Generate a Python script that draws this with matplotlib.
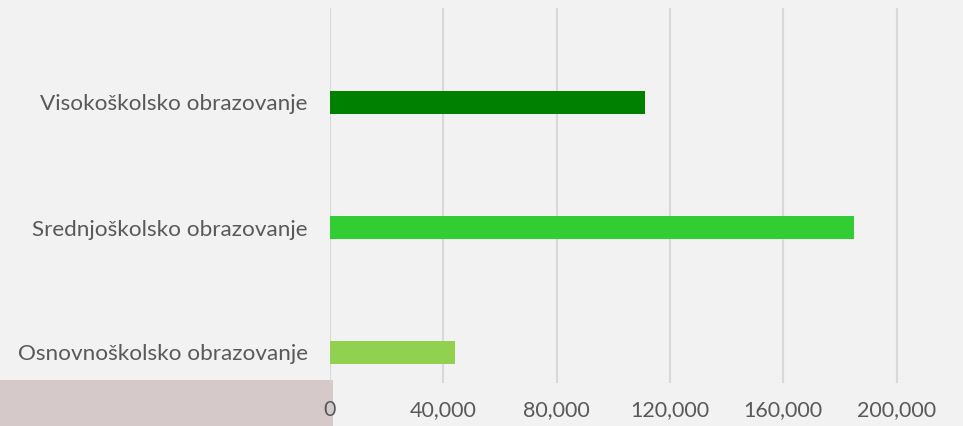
import matplotlib
matplotlib.use("Agg")
import matplotlib.pyplot as plt
from matplotlib.patches import Rectangle
from matplotlib.ticker import FuncFormatter

# data (bottom to top)
categories = ["Osnovnoškolsko obrazovanje", "Srednjoškolsko obrazovanje", "Visokoškolsko obrazovanje"]
values = [44000, 185000, 111000]
colors = ["#92d050", "#32cd32", "#008000"]
xticks = [0, 40000, 80000, 120000, 160000, 200000]

plt.rcParams['font.family'] = ['Lato', 'DejaVu Sans']

W, H = 963, 426
fig = plt.figure(figsize=(W / 100, H / 100), dpi=100)
fig.patch.set_facecolor("#f2f2f2")

# pinkish box at bottom left
fig.add_artist(Rectangle((0, 0), 333 / W, 46 / H, transform=fig.transFigure,
                         facecolor="#d5c9ca", edgecolor="none", zorder=-1))

ax = fig.add_axes([330 / W, 1 - 383 / H, 1 - 330 / W, 375 / H])
ax.set_facecolor("none")

ax.barh(range(len(categories)), values, height=0.18, color=colors, zorder=2)

ax.set_xlim(0, 223400)
ax.set_ylim(-0.244, 2.756)
ax.set_xticks(xticks)
ax.xaxis.set_major_formatter(FuncFormatter(lambda v, p: f"{int(v):,}"))
ax.set_yticks(range(len(categories)))
ax.set_yticklabels(categories)

ax.grid(axis="x", color="#d9d9d9", lw=1.5, zorder=0)
for s in ax.spines.values():
    s.set_visible(False)
ax.tick_params(axis="both", length=0, colors="#595959")
ax.tick_params(axis="x", pad=12, labelsize=15.5)
ax.tick_params(axis="y", pad=16, labelsize=16.2)

fig.savefig("out.png", dpi=100, facecolor=fig.get_facecolor())
